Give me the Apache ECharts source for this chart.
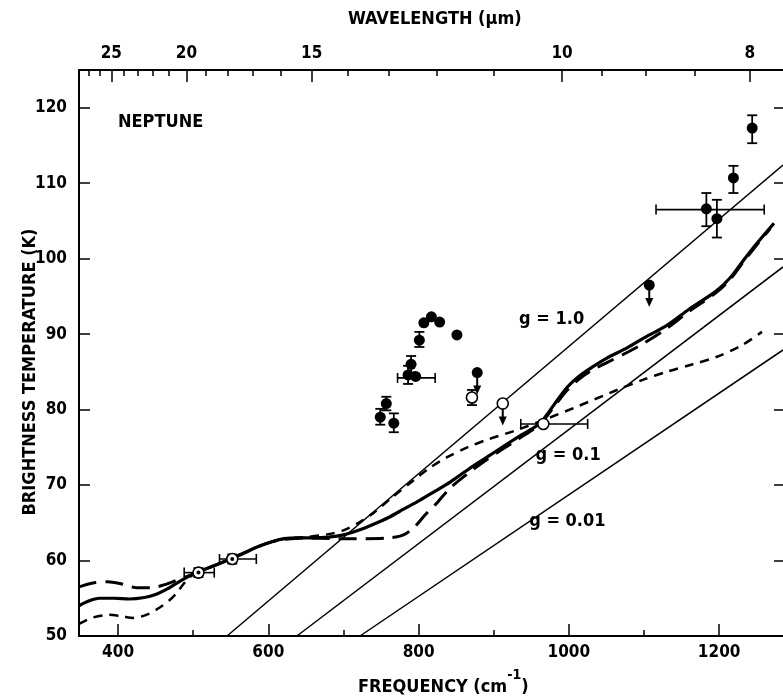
<!DOCTYPE html>
<html>
<head>
<meta charset="utf-8">
<script src="https://cdn.jsdelivr.net/npm/echarts@6/dist/echarts.min.js"></script>
<style>
  html, body { margin: 0; padding: 0; background: #fff; }
  #chart { width: 783px; height: 698px; }
</style>
</head>
<body>
<div id="chart"></div>
<script>
// frequency axis (cm^-1) and temperature axis (K)
var freqTicks = [400, 600, 800, 1000, 1200];
var freqMinorTicks = [500, 700, 900, 1100];
var tempTicks = [50, 60, 70, 80, 90, 100, 110, 120];
// wavelength axis (um), drawn at 10000/lambda
var waveMajor = [25, 20, 15, 10, 8];
var waveMinor = [28, 27, 26, 24, 23, 22, 21, 19, 18, 17, 16, 14, 13, 12, 11, 9.5, 9, 8.5];

// model curves [freq, T]
var solidModel = [[348,54.0],[360,54.6],[375,55.0],[395,55.0],[415,54.9],[435,55.1],[450,55.5],[465,56.2],[478,57.0],[492,57.8],[507,58.5],[530,59.4],[552,60.3],[570,61.1],[585,61.8],[605,62.5],[621,62.9],[640,63.0],[660,63.0],[680,63.1],[700,63.4],[720,64.0],[740,64.8],[760,65.7],[780,66.8],[802,68.0],[822,69.2],[842,70.4],[865,72.0],[891,73.7],[911,75.0],[931,76.3],[950,77.4],[962,78.2],[972,79.5],[985,81.3],[998,83.0],[1012,84.3],[1029,85.5],[1050,86.8],[1078,88.2],[1100,89.5],[1131,91.2],[1160,93.3],[1196,95.7],[1215,97.5],[1231,99.6],[1250,102.0],[1273,104.7]];
var longDashModel = [[348,56.5],[365,57.0],[386,57.2],[405,56.9],[425,56.4],[445,56.4],[462,56.8],[478,57.4],[492,57.9],[507,58.5],[530,59.4],[552,60.3],[570,61.1],[585,61.8],[605,62.5],[621,62.8],[650,63.0],[690,62.9],[730,62.9],[760,63.0],[780,63.4],[795,64.5],[810,66.2],[825,67.7],[842,69.6],[865,71.5],[891,73.4],[911,74.7],[931,76.0],[950,77.2],[962,78.0],[972,79.3],[985,81.0],[998,82.6],[1012,83.9],[1029,85.1],[1050,86.2],[1078,87.6],[1100,88.8],[1131,90.8],[1160,93.0],[1196,95.5],[1215,97.3],[1231,99.4],[1250,101.8],[1268,104.0]];
var shortDashModel = [[348,51.6],[365,52.4],[388,52.8],[405,52.6],[421,52.4],[440,52.9],[456,53.8],[468,54.7],[478,55.7],[488,57.0],[497,57.9],[507,58.5],[530,59.4],[552,60.3],[570,61.1],[585,61.8],[605,62.5],[621,62.9],[650,63.1],[680,63.5],[700,64.0],[720,65.0],[740,66.3],[765,68.4],[793,70.6],[815,72.3],[838,73.7],[865,75.0],[891,76.0],[931,77.3],[971,78.8],[1011,80.4],[1064,82.6],[1100,84.0],[1130,85.0],[1165,86.0],[1197,87.0],[1230,88.5],[1257,90.3]];

// reference lines for g = 1.0, 0.1, 0.01
var lineG10 = [[545,50],[1285,112.4]];
var lineG01 = [[638,50],[1285,98.9]];
var lineG001 = [[722,50],[1285,87.9]];
var gNames = ['g = 1.0', 'g = 0.1', 'g = 0.01'];
var gAnchor = [[977,91.9],[999,73.9],[998,65.2]];

// observations
var filledPts = [[749,79.0],[757,80.8],[767,78.2],[786,84.6],[790,86.0],[796,84.4],[801,89.2],[807,91.5],[817,92.3],[828,91.6],[851,89.9],[878,84.9],[1107,96.5],[1183,106.6],[1197,105.3],[1219,110.7],[1244,117.3]];
var openPts = [[871,81.6],[912,80.8],[966,78.1]];
var dotPts = [[507,58.4],[552,60.2]];
// [freq, Tlow, Thigh]
var vertErr = [[749,78.0,80.1],[757,79.9,81.7],[767,77.0,79.5],[786,83.4,85.8],[790,84.9,87.1],[801,88.3,90.3],[871,80.6,82.6],[1183,104.3,108.7],[1197,102.8,107.8],[1219,108.7,112.3],[1244,115.3,119.0],[507,57.8,59.0],[552,59.6,60.8]];
// [freqLow, freqHigh, T]
var horizErr = [[772,822,84.2],[936,1025,78.1],[1116,1260,106.5],[488,528,58.4],[535,584,60.2]];
// upper limits: [freq, Tfrom, Tto]
var upperLim = [[878,84.9,82.0],[912,80.8,77.9],[1107,96.5,93.6]];

var FONT = "'DejaVu Sans Condensed', 'DejaVu Sans', sans-serif";

function vErrItem(params, api) {
    var x = api.value(0);
    var a = api.coord([x, api.value(1)]);
    var b = api.coord([x, api.value(2)]);
    var st = { stroke: '#000', lineWidth: 1.8 };
    return { type: 'group', children: [
        { type: 'line', shape: { x1: a[0], y1: a[1], x2: b[0], y2: b[1] }, style: st },
        { type: 'line', shape: { x1: a[0] - 5, y1: a[1], x2: a[0] + 5, y2: a[1] }, style: st },
        { type: 'line', shape: { x1: b[0] - 5, y1: b[1], x2: b[0] + 5, y2: b[1] }, style: st }
    ]};
}

function hErrItem(params, api) {
    var y = api.value(2);
    var a = api.coord([api.value(0), y]);
    var b = api.coord([api.value(1), y]);
    var st = { stroke: '#000', lineWidth: 1.6 };
    return { type: 'group', children: [
        { type: 'line', shape: { x1: a[0], y1: a[1], x2: b[0], y2: b[1] }, style: st },
        { type: 'line', shape: { x1: a[0], y1: a[1] - 5, x2: a[0], y2: a[1] + 5 }, style: st },
        { type: 'line', shape: { x1: b[0], y1: b[1] - 5, x2: b[0], y2: b[1] + 5 }, style: st }
    ]};
}

function arrowItem(params, api) {
    var x = api.value(0);
    var a = api.coord([x, api.value(1)]);
    var b = api.coord([x, api.value(2)]);
    return { type: 'group', children: [
        { type: 'line', shape: { x1: a[0], y1: a[1], x2: b[0], y2: b[1] - 6 }, style: { stroke: '#000', lineWidth: 2 } },
        { type: 'polygon', shape: { points: [[b[0] - 4, b[1] - 9], [b[0] + 4, b[1] - 9], [b[0], b[1]]] }, style: { fill: '#000' } }
    ]};
}

function straight(data) {
    return { type: 'line', data: data, symbol: 'none', silent: true, z: 2,
        lineStyle: { color: '#000', width: 1.5 } };
}

var myChart = echarts.init(document.getElementById('chart'));

var tickFont = { color: '#000', fontFamily: FONT, fontWeight: 'bold', fontSize: 17 };
// the printed wavelength scale sits a few pixels left of the frequency scale
var topMin = 357, topMax = 1294;

var option = {
    animation: false,
    backgroundColor: '#fff',
    grid: { left: 79, right: 0, top: 70, bottom: 62 },
    xAxis: [{
        type: 'value', position: 'bottom', min: 348, max: 1285,
        splitLine: { show: false },
        axisLine: { lineStyle: { color: '#000', width: 2 } },
        axisTick: { inside: true, length: 12, customValues: freqTicks, lineStyle: { color: '#000', width: 1.5 } },
        axisLabel: Object.assign({ customValues: freqTicks, margin: 8,
            formatter: function (v) { return String(v); } }, tickFont)
    }, {
        type: 'value', position: 'bottom', min: 348, max: 1285,
        splitLine: { show: false }, axisLine: { show: false },
        axisTick: { inside: true, length: 6, customValues: freqMinorTicks, lineStyle: { color: '#000', width: 1.5 } },
        axisLabel: { show: false }
    }, {
        type: 'value', position: 'top', min: topMin, max: topMax,
        splitLine: { show: false },
        axisLine: { lineStyle: { color: '#000', width: 2 } },
        axisTick: { inside: true, length: 12, customValues: waveMajor.map(function (w) { return 10000 / w; }), lineStyle: { color: '#000', width: 1.5 } },
        axisLabel: Object.assign({ customValues: waveMajor.map(function (w) { return 10000 / w; }), margin: 8,
            formatter: function (v) { return Math.round(10000 / v); } }, tickFont)
    }, {
        type: 'value', position: 'top', min: topMin, max: topMax,
        splitLine: { show: false }, axisLine: { show: false },
        axisTick: { inside: true, length: 6, customValues: waveMinor.map(function (w) { return 10000 / w; }), lineStyle: { color: '#000', width: 1.5 } },
        axisLabel: { show: false }
    }],
    yAxis: [{
        type: 'value', position: 'left', min: 50, max: 125,
        splitLine: { show: false },
        axisLine: { lineStyle: { color: '#000', width: 2 } },
        axisTick: { inside: true, length: 11, customValues: tempTicks, lineStyle: { color: '#000', width: 1.5 } },
        axisLabel: Object.assign({ customValues: tempTicks, margin: 12 }, tickFont)
    }, {
        type: 'value', position: 'right', min: 50, max: 125,
        splitLine: { show: false }, axisLine: { show: false },
        axisTick: { inside: true, length: 9, customValues: tempTicks, lineStyle: { color: '#000', width: 1.5 } },
        axisLabel: { show: false }
    }],
    graphic: [
        { type: 'text', left: 348, top: 10, style: { text: 'WAVELENGTH (\u03bcm)', fill: '#000', font: 'bold 18px ' + FONT } },
        { type: 'text', left: 358, top: 668, style: { text: '{a|FREQUENCY (cm}{s|-1}{a|)}', fill: '#000',
            rich: { a: { fontFamily: FONT, fontWeight: 'bold', fontSize: 18, verticalAlign: 'bottom', lineHeight: 28 },
                    s: { fontFamily: FONT, fontWeight: 'bold', fontSize: 14, verticalAlign: 'top', lineHeight: 28 } } } },
        { type: 'text', x: 30, y: 372, rotation: Math.PI / 2, style: { text: 'BRIGHTNESS TEMPERATURE (K)', fill: '#000',
            font: 'bold 18px ' + FONT, align: 'center', verticalAlign: 'middle' } },
        { type: 'text', left: 118, top: 113, style: { text: 'NEPTUNE', fill: '#000', font: 'bold 18px ' + FONT } }
    ],
    series: [
        straight(lineG10), straight(lineG01), straight(lineG001),
        { type: 'line', data: shortDashModel, symbol: 'none', smooth: 0.3, z: 3,
          lineStyle: { color: '#000', width: 2.5, type: [9, 7] } },
        { type: 'line', data: longDashModel, symbol: 'none', smooth: 0.3, z: 3,
          lineStyle: { color: '#000', width: 3, type: [18, 9] } },
        { type: 'line', data: solidModel, symbol: 'none', smooth: 0.3, z: 4,
          lineStyle: { color: '#000', width: 3.2 } },
        { type: 'custom', renderItem: vErrItem, data: vertErr, encode: { x: 0, y: [1, 2] }, z: 5 },
        { type: 'custom', renderItem: hErrItem, data: horizErr, encode: { x: [0, 1], y: 2 }, z: 5 },
        { type: 'custom', renderItem: arrowItem, data: upperLim, encode: { x: 0, y: [1, 2] }, z: 5 },
        { type: 'scatter', data: filledPts, symbol: 'circle', symbolSize: 11, z: 6,
          itemStyle: { color: '#000', opacity: 1 } },
        { type: 'scatter', data: openPts.concat(dotPts), symbol: 'circle', symbolSize: 11, z: 6,
          itemStyle: { color: '#fff', borderColor: '#000', borderWidth: 1.6, opacity: 1 } },
        { type: 'scatter', data: dotPts, symbol: 'circle', symbolSize: 4, z: 7,
          itemStyle: { color: '#000', opacity: 1 } },
        { type: 'scatter', z: 6, symbolSize: 0, silent: true, itemStyle: { opacity: 1 },
          data: gAnchor.map(function (p, i) { return [p[0], p[1], gNames[i]]; }),
          label: { show: true, position: 'inside', formatter: function (p) { return p.value[2]; },
              color: '#000', fontFamily: FONT, fontWeight: 'bold', fontSize: 18 } }
    ]
};

myChart.setOption(option);
</script>
</body>
</html>
